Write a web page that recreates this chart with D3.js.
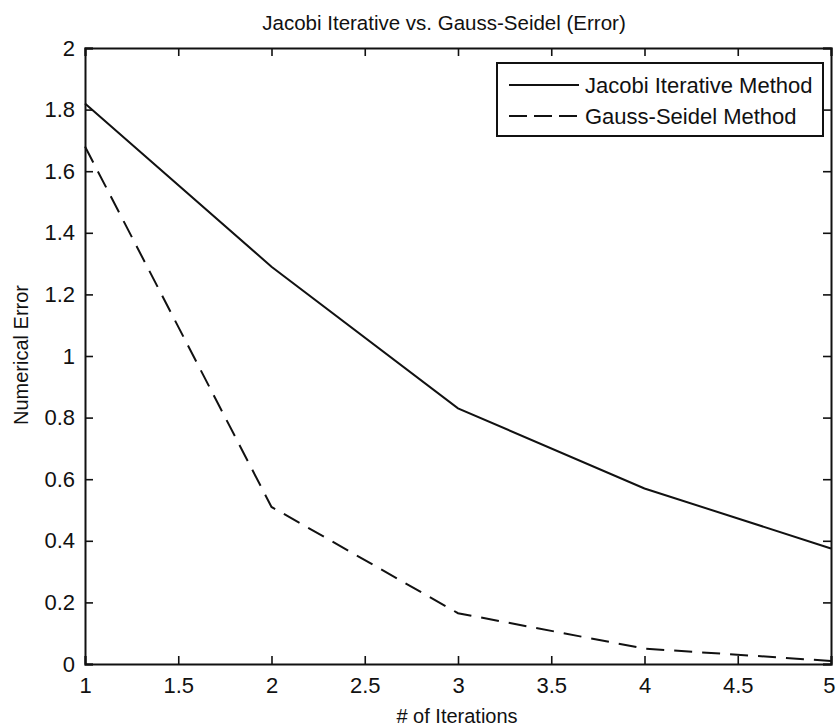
<!DOCTYPE html>
<html>
<head>
<meta charset="utf-8">
<script src="https://cdn.jsdelivr.net/npm/d3@7"></script>
<style>
  body { margin: 0; background: #fff; }
  text { font-family: "Liberation Sans", Arial, sans-serif; fill: #111; }
</style>
</head>
<body>
<div id="chart"></div>
<script>
// Data
var iterations = [1, 2, 3, 4, 5];
var jacobiError = [1.82, 1.29, 0.83, 0.57, 0.375];
var gaussError = [1.68, 0.51, 0.165, 0.05, 0.01];
var xTicks = [1, 1.5, 2, 2.5, 3, 3.5, 4, 4.5, 5];
var yTicks = [0, 0.2, 0.4, 0.6, 0.8, 1, 1.2, 1.4, 1.6, 1.8, 2];
var seriesNames = ["Jacobi Iterative Method", "Gauss-Seidel Method"];

var svgWidth = 836;
var svgHeight = 728;
var margin = { top: 48, right: 5, bottom: 64, left: 85 };
var width = svgWidth - margin.left - margin.right;
var height = svgHeight - margin.top - margin.bottom;

var svg = d3.select("#chart")
  .append("svg")
  .attr("width", svgWidth)
  .attr("height", svgHeight);

var chartGroup = svg.append("g")
  .attr("transform", `translate(${margin.left}, ${margin.top})`);

var xScale = d3.scaleLinear().domain([1, 5]).range([0, width]);
var yScale = d3.scaleLinear().domain([0, 2]).range([height, 0]);

// Axes with inward ticks on all four sides
var tick = 8;
var bottomAxis = d3.axisBottom(xScale).tickValues(xTicks).tickSize(-tick).tickPadding(tick + 5).tickFormat(d3.format("~g"));
var topAxis = d3.axisTop(xScale).tickValues(xTicks).tickSize(-tick).tickFormat("");
var leftAxis = d3.axisLeft(yScale).tickValues(yTicks).tickSize(-tick).tickPadding(tick + 2).tickFormat(d3.format("~g"));
var rightAxis = d3.axisRight(yScale).tickValues(yTicks).tickSize(-tick).tickFormat("");

function styleAxis(g) {
  g.select(".domain").attr("stroke", "#111").attr("stroke-width", 2);
  g.selectAll(".tick line").attr("stroke", "#111").attr("stroke-width", 1.6);
  g.selectAll(".tick text").attr("font-size", "22px").attr("fill", "#111");
}

var xAxisGroup = chartGroup.append("g").attr("transform", `translate(0, ${height})`).call(bottomAxis).call(styleAxis);
// keep the last label inside the window
xAxisGroup.selectAll(".tick text").filter(function(d) { return d === 5; }).attr("text-anchor", "end").attr("dx", "4");
chartGroup.append("g").call(topAxis).call(styleAxis);
chartGroup.append("g").call(leftAxis).call(styleAxis);
chartGroup.append("g").attr("transform", `translate(${width}, 0)`).call(rightAxis).call(styleAxis);

// Lines
var line = d3.line()
  .x(function(d, i) { return xScale(iterations[i]); })
  .y(function(d) { return yScale(d); });

chartGroup.append("path")
  .datum(jacobiError)
  .attr("d", line)
  .attr("fill", "none")
  .attr("stroke", "#111")
  .attr("stroke-width", 2);

chartGroup.append("path")
  .datum(gaussError)
  .attr("d", line)
  .attr("fill", "none")
  .attr("stroke", "#111")
  .attr("stroke-width", 2)
  .attr("stroke-dasharray", "18,10");

// Title and axis labels
svg.append("text")
  .attr("x", 444)
  .attr("y", 30)
  .attr("text-anchor", "middle")
  .attr("font-size", "20.5px")
  .text("Jacobi Iterative vs. Gauss-Seidel (Error)");

svg.append("text")
  .attr("x", 457)
  .attr("y", 723)
  .attr("text-anchor", "middle")
  .attr("font-size", "20px")
  .text("# of Iterations");

svg.append("text")
  .attr("transform", "rotate(-90)")
  .attr("x", -355)
  .attr("y", 28)
  .attr("text-anchor", "middle")
  .attr("font-size", "20px")
  .text("Numerical Error");

// Legend
var legend = svg.append("g").attr("transform", "translate(497, 63)");
legend.append("rect")
  .attr("width", 326)
  .attr("height", 73)
  .attr("fill", "#fff")
  .attr("stroke", "#111")
  .attr("stroke-width", 2);

var legendRows = legend.selectAll(".row")
  .data(seriesNames)
  .enter()
  .append("g")
  .attr("transform", function(d, i) { return `translate(0, ${22 + i * 31})`; });

legendRows.append("line")
  .attr("x1", 12)
  .attr("x2", 82)
  .attr("stroke", "#111")
  .attr("stroke-width", 2)
  .attr("stroke-dasharray", function(d, i) { return i === 0 ? null : "18,7"; });

legendRows.append("text")
  .attr("x", 88)
  .attr("dy", "0.35em")
  .attr("font-size", "22px")
  .text(function(d) { return d; });
</script>
</body>
</html>
